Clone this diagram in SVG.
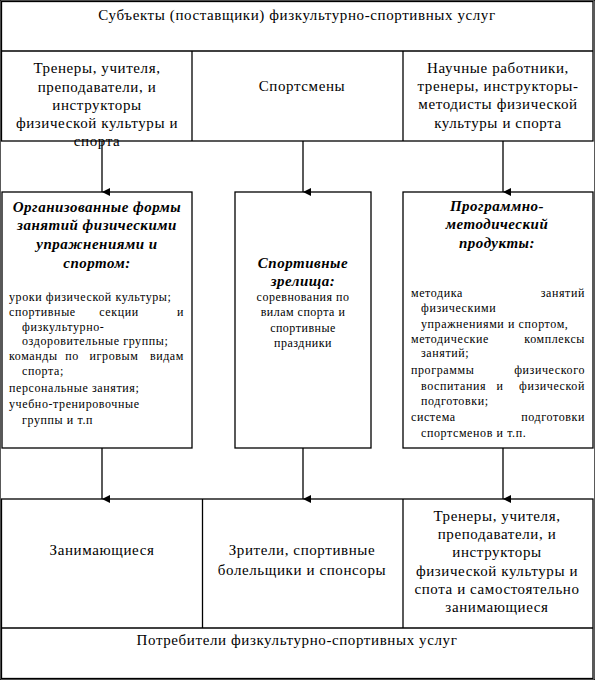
<svg xmlns="http://www.w3.org/2000/svg" width="595" height="680" viewBox="0 0 595 680">
<style>
text{fill:#000}
.m{font-size:15px;letter-spacing:0.6px;text-anchor:middle}
.t{font-size:15px;font-weight:bold;font-style:italic;letter-spacing:0.5px;text-anchor:middle}
.s{font-size:12px;letter-spacing:0.6px}
.sc{font-size:12px;letter-spacing:0.5px;text-anchor:middle}
.e{text-anchor:end}
.mid{text-anchor:middle}
rect,line{fill:none;stroke:#000;stroke-width:1.3}
</style>
<defs>
<marker id="ah" markerUnits="userSpaceOnUse" markerWidth="10" markerHeight="10" viewBox="0 0 10 10" refX="5" refY="10" orient="auto">
<path d="M1,2 L9,2 L5,10 Z" fill="#000"/>
</marker>
</defs>
<rect width="595" height="680" fill="#fff" stroke="none"/>
<g id="suppliers">
<rect x="1.5" y="1.5" width="591.5" height="139.5"/>
<line x1="1.5" y1="51" x2="593" y2="51"/>
<text font-family="Liberation Serif" class="m" x="297" y="20">Субъекты (поставщики) физкультурно-спортивных услуг</text>
</g>
<g id="trainers-top">
<line x1="192" y1="51" x2="192" y2="141"/>
<text font-family="Liberation Serif" class="m" x="97" y="73">Тренеры, учителя,</text>
<text font-family="Liberation Serif" class="m" x="97" y="92">преподаватели, и</text>
<text font-family="Liberation Serif" class="m" x="97" y="110">инструкторы</text>
<text font-family="Liberation Serif" class="m" x="97" y="128">физической культуры и</text>
<text font-family="Liberation Serif" class="m" x="97" y="146">спорта</text>
</g>
<g id="athletes">
<line x1="403" y1="51" x2="403" y2="141"/>
<text font-family="Liberation Serif" class="m" x="302" y="91">Спортсмены</text>
</g>
<g id="scientists">
<text font-family="Liberation Serif" class="m" x="498" y="73">Научные работники,</text>
<text font-family="Liberation Serif" class="m" x="498" y="91">тренеры, инструкторы-</text>
<text font-family="Liberation Serif" class="m" x="498" y="109">методисты физической</text>
<text font-family="Liberation Serif" class="m" x="498" y="128">культуры и спорта</text>
</g>

<g id="forms">
<rect x="2" y="192" width="190" height="256"/>
<text font-family="Liberation Serif" class="t" x="97" y="212">Организованные формы</text>
<text font-family="Liberation Serif" class="t" x="97" y="230">занятий физическими</text>
<text font-family="Liberation Serif" class="t" x="97" y="249">упражнениями и</text>
<text font-family="Liberation Serif" class="t" x="97" y="268">спортом:</text>
<text font-family="Liberation Serif" class="s" x="9" y="301">уроки физической культуры;</text>
<text font-family="Liberation Serif" class="s" x="9" y="316">спортивные</text><text font-family="Liberation Serif" class="s mid" x="119" y="316">секции</text><text font-family="Liberation Serif" class="s e" x="184" y="316">и</text>
<text font-family="Liberation Serif" class="s" x="22" y="331">физкультурно-</text>
<text font-family="Liberation Serif" class="s" x="22" y="345">оздоровительные группы;</text>
<text font-family="Liberation Serif" class="s" x="9" y="360">команды</text><text font-family="Liberation Serif" class="s mid" x="72" y="360">по</text><text font-family="Liberation Serif" class="s mid" x="114" y="360">игровым</text><text font-family="Liberation Serif" class="s e" x="184" y="360">видам</text>
<text font-family="Liberation Serif" class="s" x="22" y="375">спорта;</text>
<text font-family="Liberation Serif" class="s" x="9" y="392">персональные занятия;</text>
<text font-family="Liberation Serif" class="s" x="9" y="408">учебно-тренировочные</text>
<text font-family="Liberation Serif" class="s" x="22" y="424">группы и т.п</text>
</g>

<g id="spectacles">
<rect x="235" y="192" width="136" height="256"/>
<text font-family="Liberation Serif" class="t" x="303" y="268">Спортивные</text>
<text font-family="Liberation Serif" class="t" x="303" y="286">зрелища:</text>
<text font-family="Liberation Serif" class="sc" x="303" y="301">соревнования по</text>
<text font-family="Liberation Serif" class="sc" x="303" y="316">вилам спорта и</text>
<text font-family="Liberation Serif" class="sc" x="303" y="332">спортивные</text>
<text font-family="Liberation Serif" class="sc" x="303" y="347">праздники</text>
</g>

<g id="programs">
<rect x="403" y="192" width="190" height="256"/>
<text font-family="Liberation Serif" class="t" x="497" y="211">Программно-</text>
<text font-family="Liberation Serif" class="t" x="497" y="229">методический</text>
<text font-family="Liberation Serif" class="t" x="497" y="248">продукты:</text>
<text font-family="Liberation Serif" class="s" x="411" y="297">методика</text><text font-family="Liberation Serif" class="s e" x="585" y="297">занятий</text>
<text font-family="Liberation Serif" class="s" x="421" y="312">физическими</text>
<text font-family="Liberation Serif" class="s" x="421" y="328">упражнениями и спортом,</text>
<text font-family="Liberation Serif" class="s" x="411" y="343">методические</text><text font-family="Liberation Serif" class="s e" x="585" y="343">комплексы</text>
<text font-family="Liberation Serif" class="s" x="421" y="357">занятий;</text>
<text font-family="Liberation Serif" class="s" x="411" y="374">программы</text><text font-family="Liberation Serif" class="s e" x="585" y="374">физического</text>
<text font-family="Liberation Serif" class="s" x="421" y="390">воспитания</text><text font-family="Liberation Serif" class="s mid" x="500" y="390">и</text><text font-family="Liberation Serif" class="s e" x="585" y="390">физической</text>
<text font-family="Liberation Serif" class="s" x="421" y="405">подготовки;</text>
<text font-family="Liberation Serif" class="s" x="411" y="421">система</text><text font-family="Liberation Serif" class="s e" x="585" y="421">подготовки</text>
<text font-family="Liberation Serif" class="s" x="421" y="437">спортсменов и т.п.</text>
</g>

<g id="consumers">
<rect x="1.5" y="499" width="591.5" height="179.5"/>
<line x1="1.5" y1="628" x2="593" y2="628"/>
<text font-family="Liberation Serif" class="m" x="297" y="645">Потребители физкультурно-спортивных услуг</text>
</g>
<g id="practitioners">
<line x1="202.5" y1="499" x2="202.5" y2="628"/>
<text font-family="Liberation Serif" class="m" x="102" y="555">Занимающиеся</text>
</g>
<g id="spectators">
<line x1="403" y1="499" x2="403" y2="628"/>
<text font-family="Liberation Serif" class="m" x="302" y="555">Зрители, спортивные</text>
<text font-family="Liberation Serif" class="m" x="302" y="575">болельщики и спонсоры</text>
</g>
<g id="trainers-bottom">
<text font-family="Liberation Serif" class="m" x="497" y="521">Тренеры, учителя,</text>
<text font-family="Liberation Serif" class="m" x="497" y="539">преподаватели, и</text>
<text font-family="Liberation Serif" class="m" x="497" y="557">инструкторы</text>
<text font-family="Liberation Serif" class="m" x="497" y="576">физической культуры и</text>
<text font-family="Liberation Serif" class="m" x="497" y="594">спота и самостоятельно</text>
<text font-family="Liberation Serif" class="m" x="497" y="612">занимающиеся</text>
</g>
<g id="connectors">
<line x1="102" y1="141" x2="102" y2="192" marker-end="url(#ah)"/>
<line x1="303" y1="141" x2="303" y2="192" marker-end="url(#ah)"/>
<line x1="503" y1="141" x2="503" y2="192" marker-end="url(#ah)"/>
<line x1="102" y1="448" x2="102" y2="499" marker-end="url(#ah)"/>
<line x1="303" y1="448" x2="303" y2="499" marker-end="url(#ah)"/>
<line x1="503" y1="448" x2="503" y2="499" marker-end="url(#ah)"/>
</g>
</svg>
